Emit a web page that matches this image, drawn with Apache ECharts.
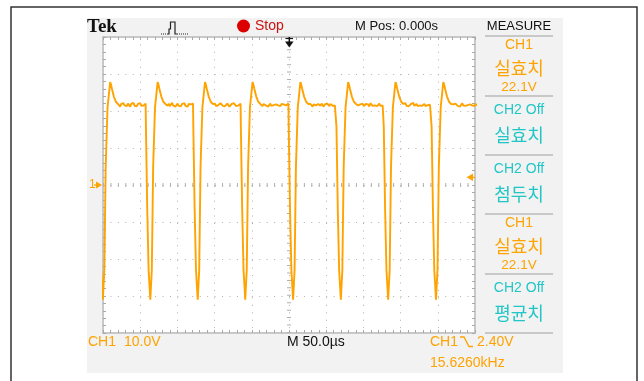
<!DOCTYPE html>
<html><head><meta charset="utf-8">
<script src="https://cdn.jsdelivr.net/npm/echarts@6/dist/echarts.min.js"></script>
<style>html,body{margin:0;padding:0;background:#fff}#c{width:644px;height:381px}</style>
</head><body><div id="c"></div>
<script>
// Time of each falling edge (µs, trigger at 0)
const pulseFalls = [-256.5, -192.7, -129.0, -65.1, -0.8, 63.4, 127.0, 191.3];
// One pulse edge: [µs after fall, volts]
const edgeShape = [
  [0, 22.0], [0.4, 15.7], [1.6, 15.5], [2.2, -6.8], [3.6, -6.8], [4.0, -23], [5.4, -23],
  [6.3, -31], [8.0, -31], [8.3, -23], [9.6, -23], [10.1, 4.9], [12.2, 4.9],
  [12.6, 21.0], [14.6, 21.0], [16.1, 27.8], [17.2, 27.2], [18.4, 26.1],
  [21.1, 23.9], [23.8, 22.5], [26.5, 21.9]
];
// Plateau (noisy top) readings per pulse, from 28 µs after fall, every 1.5 µs
const plateauStart = 28, plateauStep = 1.5;
const plateaus = [
  [21.6,21.2,21.9,21.4,22.1,21.5,21.8,21.3,22.0,21.6,21.2,21.9,21.5,22.2,21.4,21.7,21.3,21.9,21.6,22.1,21.4,21.8,21.5,21.7],
  [21.8,21.4,22.0,21.3,21.7,22.2,21.5,21.9,21.2,21.6,22.0,21.4,21.8,21.3,21.9,21.6,22.1,21.4,21.7,21.2,21.9,21.5,21.8,21.4],
  [21.5,22.0,21.3,21.8,21.6,21.2,22.1,21.7,21.4,21.9,21.3,21.8,22.0,21.5,21.2,21.7,21.9,21.4,22.1,21.6,21.3,21.8,21.5,21.6],
  [21.7,21.3,21.9,22.1,21.5,21.8,21.2,21.6,22.0,21.4,21.9,21.6,21.3,21.8,22.2,21.5,21.7,21.3,21.9,21.4,21.8,22.0,21.5,21.6],
  [21.4,21.9,21.6,21.2,21.8,22.1,21.5,21.3,21.9,21.7,21.4,22.0,21.6,21.2,21.8,21.5,22.1,21.7,21.3,21.9,21.6,21.4,21.8,21.5],
  [21.9,21.5,21.2,21.8,21.6,22.0,21.3,21.7,21.9,21.4,21.8,21.2,22.1,21.6,21.4,21.9,21.5,21.8,21.3,21.7,22.0,21.4,21.6,21.5],
  [21.6,22.1,21.4,21.8,21.3,21.7,21.9,21.5,22.2,21.4,21.6,21.9,21.3,21.8,21.5,22.0,21.4,21.7,21.9,21.3,21.8,21.6,21.4,21.7],
  [21.5,21.8,21.3,22.0,21.6,21.4,21.9,21.2,21.7,22.1,21.5,21.8,21.4,21.9,21.6,21.3,21.8,22.0,21.5,21.7,21.3,21.9,21.6,21.4]
];
// Axis settings: 50 µs/div, 10 V/div
const timeRange = [-250, 250], timeDiv = 50;
const voltRange = [-40, 40], voltDiv = 10;
// Right-hand MEASURE panel
const measureItems = [
  { head: 'CH1', name: '실효치', value: '22.1V', on: true },
  { head: 'CH2 Off', name: '실효치', value: '', on: false },
  { head: 'CH2 Off', name: '첨두치', value: '', on: false },
  { head: 'CH1', name: '실효치', value: '22.1V', on: true },
  { head: 'CH2 Off', name: '평균치', value: '', on: false }
];

const ORANGE = '#ffa300', CYAN = '#22c6c6';
const FONT = '"Liberation Sans", "Noto Sans CJK KR", sans-serif';
const KFONT = '"Noto Sans CJK KR", sans-serif';

const trace = [];
pulseFalls.forEach((t0, i) => {
  edgeShape.forEach(([dt, v]) => trace.push([t0 + dt, v]));
  plateaus[i].forEach((v, k) => trace.push([t0 + plateauStart + k * plateauStep, v]));
});

const tickStyle = { color: '#a8a8a8', width: 1 };
function xAx(pos, split) {
  return {
    type: 'value', min: timeRange[0], max: timeRange[1], interval: timeDiv, position: pos,
    axisLine: { show: true, onZero: false, lineStyle: { color: '#c8c8c8', width: 2 } },
    axisTick: { show: true, inside: true, length: 3, lineStyle: tickStyle },
    minorTick: { show: true, splitNumber: 5, length: 3, lineStyle: tickStyle },
    axisLabel: { show: false },
    splitLine: { show: split, lineStyle: { color: '#b0b0b0', width: 1, type: [1, 6.44] } }
  };
}
function yAx(pos, split) {
  return {
    type: 'value', min: voltRange[0], max: voltRange[1], interval: voltDiv, position: pos,
    axisLine: { show: true, onZero: false, lineStyle: { color: '#c8c8c8', width: 2 } },
    axisTick: { show: true, inside: true, length: 3, lineStyle: tickStyle },
    minorTick: { show: true, splitNumber: 5, length: 3, lineStyle: tickStyle },
    axisLabel: { show: false },
    splitLine: { show: split, lineStyle: { color: '#b0b0b0', width: 1, type: [1, 6.44] } }
  };
}

function txt(text, x, y, fill, size, align, font, weight) {
  return {
    type: 'text', z: 50,
    style: {
      text: text, x: x, y: y, fill: fill,
      font: (weight || 'normal') + ' ' + size + 'px ' + (font || FONT),
      textAlign: align || 'left', align: align || 'left',
      textVerticalAlign: 'middle', verticalAlign: 'middle'
    }
  };
}

const graphics = [
  { type: 'rect', z: -100, shape: { x: 11, y: 7, width: 626, height: 400 }, style: { fill: '#fff', stroke: '#333', lineWidth: 1.5 } },
  { type: 'rect', z: -90, shape: { x: 87, y: 18, width: 476, height: 355 }, style: { fill: '#f2f2f2' } },
  txt('Tek', 87, 27, '#111', 19, 'left', '"Liberation Serif", serif', 'bold'),
  { type: 'polyline', z: 50, shape: { points: [[161, 34], [167, 34]] }, style: { stroke: '#222', lineWidth: 1, lineDash: [1, 1] } },
  { type: 'polyline', z: 50, shape: { points: [[167, 34], [169, 34], [169, 29], [170.5, 29], [170.5, 22], [175, 22], [175, 34], [177, 34]] }, style: { stroke: '#222', lineWidth: 1.2, fill: 'none' } },
  { type: 'polyline', z: 50, shape: { points: [[177, 34], [188, 34]] }, style: { stroke: '#222', lineWidth: 1, lineDash: [1, 1] } },
  { type: 'circle', z: 50, shape: { cx: 243.5, cy: 26, r: 6.5 }, style: { fill: '#dd0000' } },
  txt('Stop', 255, 26, '#cc1111', 14),
  txt('M Pos: 0.000s', 355, 26, '#111', 13),
  txt('MEASURE', 519, 26, '#111', 13, 'center'),
  // Bottom status
  txt('CH1', 88, 342, ORANGE, 14),
  txt('10.0V', 124, 342, ORANGE, 14),
  txt('M 50.0µs', 287, 342, '#111', 14),
  txt('CH1', 430, 342, ORANGE, 14),
  { type: 'polyline', z: 50, shape: { points: [[460, 337], [464, 337], [469, 346.5], [473, 346.5]] }, style: { stroke: ORANGE, lineWidth: 1.3, fill: 'none' } },
  txt('2.40V', 477, 342, ORANGE, 14),
  txt('15.6260kHz', 430, 363, ORANGE, 14),
  // CH1 ground marker
  txt('1', 89, 185, ORANGE, 12),
  { type: 'polyline', z: 50, shape: { points: [[94, 185], [97, 185]] }, style: { stroke: ORANGE, lineWidth: 1.2 } },
  { type: 'polygon', z: 50, shape: { points: [[96, 181.5], [102, 185], [96, 188.5]] }, style: { fill: ORANGE } },
  // trigger level marker (right)
  { type: 'polygon', z: 50, shape: { points: [[466.5, 177.3], [473, 173.5], [473, 181]] }, style: { fill: ORANGE } },
  { type: 'polyline', z: 50, shape: { points: [[472, 177.3], [475, 177.3]] }, style: { stroke: ORANGE, lineWidth: 1.2 } },
  // trigger position marker (top)
  { type: 'polyline', z: 50, shape: { points: [[289.3, 37], [289.3, 42]] }, style: { stroke: '#111', lineWidth: 1.5 } },
  { type: 'polyline', z: 50, shape: { points: [[285.5, 38.5], [293, 38.5]] }, style: { stroke: '#111', lineWidth: 1.2 } },
  { type: 'polygon', z: 50, shape: { points: [[285, 41.5], [293.6, 41.5], [289.3, 47.5]] }, style: { fill: '#111' } }
];
// MEASURE panel separators and items
const sepY = [36, 96, 155, 214, 274, 333];
sepY.forEach(y => graphics.push({ type: 'polyline', z: 50, shape: { points: [[485, y], [553, y]] }, style: { stroke: '#c8c8c8', lineWidth: 2 } }));
measureItems.forEach((m, i) => {
  const top = sepY[i];
  const col = m.on ? ORANGE : CYAN;
  if (m.value) {
    graphics.push(txt(m.head, 519, top + 9.5, col, 14, 'center'));
    graphics.push(txt(m.name, 519, top + 32, col, 18, 'center', KFONT));
    graphics.push(txt(m.value, 519, top + 51, col, 13.5, 'center'));
  } else {
    graphics.push(txt(m.head, 519, top + 14, col, 14, 'center'));
    graphics.push(txt(m.name, 519, top + 39.5, col, 18, 'center', KFONT));
  }
});

const chart = echarts.init(document.getElementById('c'), null, { renderer: 'canvas' });
chart.setOption({
  animation: false,
  backgroundColor: '#fff',
  grid: { left: 103, top: 37, width: 372, height: 296, show: true, backgroundColor: '#fff', borderWidth: 0 },
  xAxis: [xAx('bottom', true), xAx('top', false)],
  yAxis: [yAx('left', true), yAx('right', false)],
  series: [
    {
      type: 'line', data: [], xAxisIndex: 0, yAxisIndex: 0, silent: true, z: 1,
      markLine: {
        silent: true, symbol: ['none', 'none'], label: { show: false }, animation: false,
        lineStyle: { color: '#b0b0b0', width: 4, type: [1, 6.44] },
        data: [{ yAxis: 0 }, { xAxis: 0 }]
      }
    },
    {
      type: 'line', data: trace, xAxisIndex: 0, yAxisIndex: 0, symbol: 'none', showSymbol: false,
      clip: true, z: 5, lineStyle: { color: ORANGE, width: 1.9 }
    }
  ],
  graphic: { elements: graphics }
});
</script></body></html>
